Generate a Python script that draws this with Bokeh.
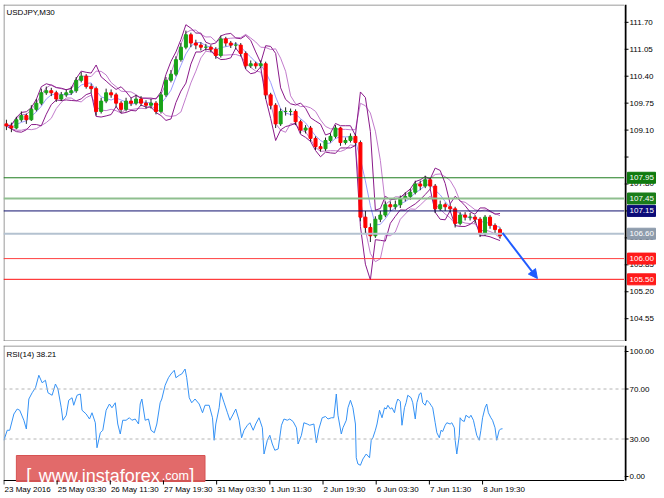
import pandas as pd
from bokeh.plotting import figure
from bokeh.layouts import column, row
from bokeh.models import Span, Label, Arrow, NormalHead, ColumnDataSource, Range1d
from bokeh.core.properties import value
from bokeh.embed import file_html
from bokeh.resources import INLINE

FONT = "Liberation Sans"

# ---- data (M30 bar index = time) ----
candle_bar = [3 + 6 * i for i in range(100)]
opens = [109.25,109.20,109.15,109.35,109.45,109.35,109.60,109.75,110.00,110.05,
 110.00,109.85,109.95,110.00,110.05,110.30,110.40,110.15,110.10,109.55,
 109.80,110.00,109.95,109.75,109.60,109.80,109.75,109.85,109.75,109.70,
 109.75,109.55,109.95,110.30,110.45,110.80,111.10,111.40,111.20,111.15,
 111.10,111.10,111.05,110.90,111.30,111.20,111.15,111.15,110.95,110.65,
 110.70,110.65,110.70,109.95,109.70,109.25,109.55,109.55,109.55,109.30,
 109.10,109.15,108.90,108.70,108.65,108.85,108.95,109.15,108.80,108.85,
 108.95,108.80,107.00,106.75,106.55,106.95,107.05,107.30,107.25,107.30,
 107.45,107.50,107.60,107.80,107.75,107.90,107.75,107.20,107.30,107.25,
 107.20,106.85,107.05,107.00,107.00,106.95,106.60,107.00,106.80,106.70]
closes = [109.20,109.15,109.35,109.45,109.35,109.60,109.75,110.00,110.05,110.00,
 109.85,109.95,110.00,110.05,110.30,110.40,110.15,110.10,109.55,109.80,
 110.00,109.95,109.75,109.60,109.80,109.75,109.85,109.75,109.70,109.75,
 109.55,109.95,110.30,110.45,110.80,111.10,111.40,111.20,111.15,111.10,
 111.10,111.05,110.90,111.30,111.20,111.15,111.15,110.95,110.65,110.70,
 110.65,110.70,109.95,109.70,109.25,109.55,109.55,109.55,109.30,109.10,
 109.15,108.90,108.70,108.65,108.85,108.95,109.15,108.80,108.85,108.95,
 108.80,107.00,106.75,106.55,106.95,107.05,107.30,107.25,107.30,107.45,
 107.50,107.60,107.80,107.75,107.90,107.75,107.20,107.30,107.25,107.20,
 106.85,107.05,107.00,107.00,106.95,106.60,107.00,106.80,106.70,106.55]
highs = [109.35,109.28,109.42,109.55,109.50,109.70,109.85,110.10,110.15,110.12,
 110.05,110.02,110.08,110.15,110.38,110.50,110.45,110.22,110.15,109.88,
 110.10,110.08,110.00,109.80,109.88,109.88,109.95,109.92,109.82,109.85,
 109.80,110.02,110.38,110.55,110.88,111.20,111.50,111.45,111.28,111.22,
 111.18,111.15,111.10,111.38,111.35,111.25,111.22,111.20,111.00,110.78,
 110.75,110.78,110.75,110.00,109.75,109.62,109.65,109.62,109.60,109.35,
 109.22,109.20,108.95,108.78,108.92,109.02,109.22,109.18,108.92,109.02,
 109.00,108.85,107.15,106.85,107.02,107.15,107.38,107.38,107.40,107.52,
 107.60,107.68,107.88,107.88,108.00,107.95,107.80,107.40,107.35,107.32,
 107.25,107.12,107.12,107.10,107.05,107.00,107.05,107.05,106.85,106.75]
lows = [109.10,109.05,109.12,109.30,109.25,109.32,109.55,109.70,109.95,109.92,
 109.78,109.80,109.90,109.95,110.00,110.25,110.10,110.00,109.45,109.50,
 109.75,109.88,109.65,109.52,109.55,109.68,109.70,109.68,109.62,109.62,
 109.48,109.50,109.90,110.25,110.40,110.75,111.05,111.10,111.05,111.02,
 111.02,110.98,110.82,110.85,111.12,111.08,111.05,110.88,110.58,110.60,
 110.58,110.60,109.85,109.60,109.15,109.20,109.45,109.45,109.22,109.02,
 109.02,108.82,108.62,108.58,108.60,108.80,108.90,108.72,108.75,108.80,
 108.72,106.90,106.60,106.40,106.50,106.88,107.00,107.15,107.18,107.22,
 107.38,107.42,107.55,107.65,107.70,107.68,107.10,107.15,107.15,107.12,
 106.75,106.80,106.92,106.92,106.85,106.52,106.55,106.72,106.60,106.48]

rsi_bar = [0,4,7,12,16,19,24,27,30,34,38,42,46,50,53,58,62,65,69,71,75,78,82,84,88,92,94,99,103,106,
 110,112,116,119,123,127,130,134,137,140,143,147,151,154,158,162,164,166,170,174,177,181,184,188,190,
 194,198,201,205,207,211,214,218,220,223,226,230,235,239,242,247,251,253,255,259,261,265,269,272,276,
 279,283,286,289,293,296,300,303,307,311,313,317,320,323,326,330,334,337,341,344,348,352,354,358,361,
 365,368,373,376,379,383,387,390,394,397,400,402,406,408,412,414,417,420,423,424,426,429,432,436,440,
 442,444,447,449,452,455,458,460,462,465,467,470,472,474,477,479,482,484,486,490,492,495,497,500,502,
 504,507,509,512,514,516,519,521,524,526,528,531,533,537,539,542,543,545,548,549,551,554,556,560,562,
 565,567,569,572,574,576,579,581,583,586,588,591,592,593,596,598,600]
rsi_val = [29,37,37,50,54,53,45,38,62,67,71,81,75,77,67,65,74,70,55,45,49,61,63,57,65,66,53,50,46,51,
 43,23,35,37,53,58,55,59,42,34,45,45,47,45,46,42,58,62,45,46,37,35,42,59,62,
 73,79,82,85,79,81,82,86,79,63,59,62,58,51,57,57,47,29,42,55,67,59,51,45,50,
 54,45,31,37,41,43,37,42,47,39,18,29,33,26,21,22,41,46,45,46,44,39,26,33,43,
 42,41,42,27,38,47,48,46,47,47,66,49,34,39,45,55,61,55,42,15,10,9,14,18,15,
 29,31,37,42,53,47,55,54,57,54,55,51,58,62,60,41,55,59,65,63,59,46,59,66,67,
 59,57,61,59,57,55,43,35,31,37,36,41,43,42,43,39,29,18,33,47,45,44,49,47,49,
 45,39,33,29,37,47,55,58,51,47,45,39,34,29,37,38,38.21]

price_ticks = [104.55, 105.20, 105.85, 106.50, 107.15, 107.80, 108.45, 109.10, 109.75, 110.40, 111.05, 111.70]
price_tick_labels = ["104.55", "105.20", "105.85", "106.50", "107.15", "107.80", "", "109.10",
                     "109.75", "110.40", "111.05", "111.70"]
rsi_ticks = [0, 30, 70, 100]
rsi_tick_labels = ["0.00", "30.00", "70.00", "100.00"]
level_prices = [107.95, 107.45, 107.15, 106.60, 106.00, 105.50]
level_names = ["107.95", "107.45", "107.15", "106.60", "106.00", "105.50"]
level_line_colors = ["#1d7d1d", "#8fbf8f", "#10106e", "#b4c2d0", "#ff4040", "#ff1010"]
level_box_colors = ["#0f7a0f", "#1a7d1a", "#0c0c78", "#8e9cac", "#ff1a1a", "#ff1a1a"]
level_widths = [1, 2, 1, 2, 1, 1]
time_ticks = [0, 64, 128, 192, 256, 320, 384, 448, 512, 576]
time_labels = ["23 May 2016", "25 May 03:30", "26 May 11:30", "27 May 19:30", "31 May 03:30",
               "1 Jun 11:30", "2 Jun 19:30", "6 Jun 03:30", "7 Jun 11:30", "8 Jun 19:30"]
target_start = (600, 106.62)
target_end = (642, 105.52)

# ---- indicator bands (Bollinger style, from closes) ----
s = pd.Series(closes)
mid = s.rolling(4, min_periods=1).mean()
sd = s.rolling(4, min_periods=1).std(ddof=0).fillna(0)
mid2 = s.rolling(6, min_periods=1).mean()
sd2 = s.rolling(6, min_periods=1).std(ddof=0).fillna(0)

src = ColumnDataSource(dict(
    x=candle_bar, o=opens, c=closes, h=highs, l=lows,
    top=[max(a, b) for a, b in zip(opens, closes)],
    bot=[min(a, b) for a, b in zip(opens, closes)],
    col=["#19a319" if c >= o else "#ff0000" for o, c in zip(opens, closes)],
    up1=mid + 2 * sd, lo1=mid - 2 * sd, up2=mid2 + 1.6 * sd2, lo2=mid2 - 1.6 * sd2, mid=mid))

# ---- geometry ----
LM = 3                        # left margin
FW, AW = 621, 40
MH = 337                      # main frame height
RF = 135                      # RSI frame (plot part) height
RL = 16                       # label strip under RSI frame
X0, X1 = -0.5, 746.8
YM0, YM1 = 104.0, 112.13
YR0, YR1 = -3.2, 104.8
upx_r = (YR1 - YR0) / RF      # RSI units per px
YRB = YR0 - RL * upx_r
bpx = (X1 - X0) / FW          # bars per px
BORDER = "#7a7a7a"
XR = Range1d(X0, X1)
YRM = Range1d(YM0, YM1)
YRR = Range1d(YRB, YR1)


def bare(fig):
    fig.xaxis.visible = False
    fig.yaxis.visible = False
    fig.grid.visible = False
    fig.outline_line_color = None
    fig.background_fill_color = "white"
    fig.border_fill_color = "white"
    return fig


# ---- main price panel ----
p = bare(figure(width=LM + FW, height=MH + 4, x_range=XR, y_range=YRM, output_backend="svg",
                toolbar_location=None, min_border=0, min_border_left=LM, min_border_top=4))
ey = (YM1 - YM0) / MH * 0.5
ex = bpx * 0.5
p.line([X0 + ex, X0 + ex], [YM0, YM1], line_color=BORDER, line_width=1)
p.line([X0, X1], [YM1 - ey, YM1 - ey], line_color=BORDER, line_width=1)
p.line([X0, X1], [YM0 + ey, YM0 + ey], line_color=BORDER, line_width=1)

for price, col, w in zip(level_prices, level_line_colors, level_widths):
    p.add_layout(Span(location=price, dimension="width", line_color=col, line_width=w))

p.line("x", "up2", source=src, line_color="#c27ccc", line_width=1)
p.line("x", "lo2", source=src, line_color="#c27ccc", line_width=1)
p.line("x", "up1", source=src, line_color="#8a1a8a", line_width=1)
p.line("x", "lo1", source=src, line_color="#8a1a8a", line_width=1)
p.line("x", "mid", source=src, line_color="#9a9aff", line_width=1)

p.segment(x0="x", y0="h", x1="x", y1="l", source=src, line_color="#222222", line_width=1)
p.vbar(x="x", top="top", bottom="bot", width=3.6, source=src, fill_color="col", line_color="col")

p.add_layout(Arrow(end=NormalHead(size=9, fill_color="#1f5bff", line_color="#1f5bff"),
                   x_start=target_start[0], y_start=target_start[1],
                   x_end=target_end[0], y_end=target_end[1],
                   line_color="#1f5bff", line_width=2))
p.add_layout(Label(x=3, y=MH - 3, x_units="screen", y_units="screen", text="USDJPY,M30",
                   text_font=FONT, text_font_size="8px", text_color="black", text_baseline="top"))

# ---- main price scale (right) ----
pa = bare(figure(width=AW, height=MH + 4, x_range=Range1d(0, AW), y_range=YRM, output_backend="svg",
                 toolbar_location=None, min_border=0, min_border_top=4))
pa.line([1, 1], [YM0, YM1], line_color="black", line_width=2)
pa.segment(x0=[0] * len(price_ticks), y0=price_ticks, x1=[4] * len(price_ticks), y1=price_ticks,
           line_color="black", line_width=1)
pa.text(x=[5] * len(price_ticks), y=price_ticks, text=price_tick_labels, text_baseline="middle",
        text_align="left", text_font=value(FONT), text_font_size="8px", text_color="black")
pa.rect(x=[17] * len(level_prices), y=level_prices, width=28, height=11, height_units="screen",
        fill_color=level_box_colors, line_color=level_box_colors)
pa.text(x=[5] * len(level_prices), y=level_prices, text=level_names, text_baseline="middle",
        text_align="left", text_font=value(FONT), text_font_size="8px", text_color="white")

# ---- RSI panel ----
r = bare(figure(width=LM + FW, height=RF + RL + 4, x_range=XR, y_range=YRR, output_backend="svg",
                toolbar_location=None, min_border=0, min_border_left=LM, min_border_top=4))
eyr = upx_r * 0.5
r.line([X0 + ex, X0 + ex], [YR0, YR1], line_color=BORDER, line_width=1)
r.line([X0, X1], [YR1 - eyr, YR1 - eyr], line_color=BORDER, line_width=1)
for lvl in (30, 70):
    r.add_layout(Span(location=lvl, dimension="width", line_color="#b4b4b4", line_width=1, line_dash="3 3"))
r.line(rsi_bar, rsi_val, line_color="#3592f5", line_width=1)
r.line([X0, X1], [YR0, YR0], line_color="black", line_width=1)
r.add_layout(Label(x=3, y=RF + RL - 4, x_units="screen", y_units="screen", text="RSI(14) 38.21",
                   text_font=FONT, text_font_size="8px", text_color="black", text_baseline="top"))

# watermark
r.quad(left=[15], right=[242], bottom=[YR0 - 1 * upx_r], top=[YR0 + 25 * upx_r],
       fill_color="#e05d5d", fill_alpha=0.92, line_color="#d65252")
wm_base = YR0 + 5 * upx_r
r.text(x=[27, 223], y=[wm_base + 0.5 * upx_r] * 2, text=["[", "]"], text_align="left",
       text_baseline="alphabetic", text_font=value(FONT), text_font_size="18px", text_color="white")
r.text(x=[42], y=[wm_base], text=["www.instaforex"], text_align="left",
       text_baseline="alphabetic", text_font=value(FONT), text_font_size="18px", text_color="white")
r.text(x=[190], y=[wm_base], text=[".com"], text_align="left",
       text_baseline="alphabetic", text_font=value(FONT), text_font_size="12.5px", text_color="white")

# time axis ticks and labels
r.segment(x0=time_ticks, y0=[YR0] * len(time_ticks), x1=time_ticks,
          y1=[YR0 - 4 * upx_r] * len(time_ticks), line_color="black", line_width=1)
r.text(x=[t + 0.6 * bpx for t in time_ticks], y=[YR0 - 4.5 * upx_r] * len(time_ticks), text=time_labels,
       text_align="left", text_baseline="top", text_font=value(FONT), text_font_size="8px",
       text_color="black")

# ---- RSI scale (right) ----
ra = bare(figure(width=AW, height=RF + RL + 4, x_range=Range1d(0, AW), y_range=YRR, output_backend="svg",
                 toolbar_location=None, min_border=0, min_border_top=4))
ra.line([1, 1], [YR0, YR1], line_color="black", line_width=2)
ra.segment(x0=[0] * 4, y0=rsi_ticks, x1=[4] * 4, y1=rsi_ticks, line_color="black", line_width=1)
ra.text(x=[5] * 4, y=rsi_ticks, text=rsi_tick_labels, text_baseline="middle", text_align="left",
        text_font=value(FONT), text_font_size="8px", text_color="black")

lay = column(row(p, pa, spacing=0), row(r, ra, spacing=0), spacing=0)
open("out.html", "w").write(file_html(lay, INLINE))
